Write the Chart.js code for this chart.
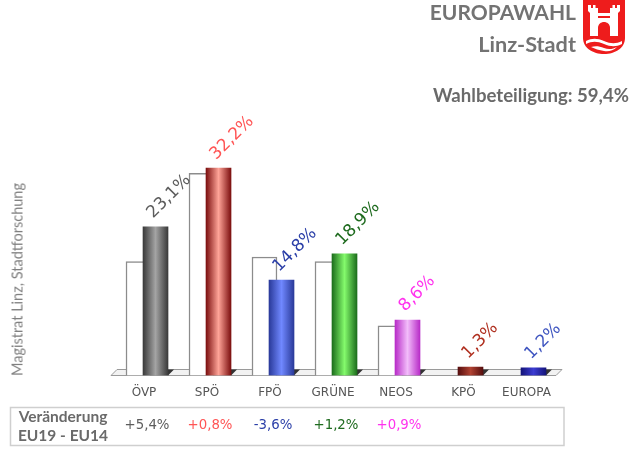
<!DOCTYPE html>
<html>
<head>
<meta charset="utf-8">
<script src="https://cdn.jsdelivr.net/npm/chart.js@4"></script>
<style>
html, body { margin: 0; padding: 0; background: #fff; }
#wrap { position: relative; width: 640px; height: 456px; overflow: hidden; }
#wrap div { position: absolute; white-space: nowrap; font-family: Lato, sans-serif; }
#t1 { right: 64px; top: -1px; font-size: 21px; font-weight: 700; color: #737373; }
#t2 { right: 64px; top: 31px; font-size: 21.7px; font-weight: 700; color: #737373; }
#turnout { right: 11px; top: 84px; font-size: 18.6px; font-weight: 700; color: #6a6a6a; }
#source { left: 17px; top: 376px; font-size: 14.5px; color: #808080; transform-origin: 0 0; transform: rotate(-90deg) translateY(-50%); }
svg { position: absolute; left: 583px; top: 0; }
</style>
</head>
<body>
<div id="wrap">
  <canvas id="wahlChart" width="640" height="456"></canvas>
  <div id="t1">EUROPAWAHL</div>
  <div id="t2">Linz-Stadt</div>
  <div id="turnout">Wahlbeteiligung: 59,4%</div>
  <div id="source">Magistrat Linz, Stadtforschung</div>
  <svg width="42" height="55" viewBox="0 0 42 55">
    <path d="M0 0H42V38C42 48 32 54 21 54C10 54 0 48 0 38Z" fill="#ee1c1c"/>
    <path d="M5 5H8V8H10V5H12.5V8H15V13H27V8H29.500V5H32V8H34V5H37V11L35 13V36H7V13L5 11Z" fill="#fff"/>
    <path d="M15 36V28C15 24 18 22 21 22C24 22 27 24 27 28V36Z" fill="#ee1c1c"/>
    <path d="M15 16H27V18H15Z" fill="#ee1c1c"/>
    <path d="M3 41C9 38 14 38 21 41C28 44 33 44 39 41V44C33 47 28 47 21 44C14 41 9 41 3 44Z" fill="#fff"/>
    <path d="M8 47C12 46 16 46 21 48C26 50 30 49 34 47C30 51 25 52 21 51C16 50 12 49 8 47Z" fill="#fff"/>
  </svg>
</div>
<script>
// Europawahl 2019 Linz, values in percent
var categories = ['ÖVP', 'SPÖ', 'FPÖ', 'GRÜNE', 'NEOS', 'KPÖ', 'EUROPA'];
var eu19 = [23.1, 32.2, 14.8, 18.9, 8.6, 1.3, 1.2];
var eu14 = [17.7, 31.4, 18.4, 17.7, 7.7, null, null];
var changes = ['+5,4%', '+0,8%', '-3,6%', '+1,2%', '+0,9%'];

var textColors = ['#5c5c5c', '#ff5555', '#2b3fa8', '#1f6b1f', '#ff33ee', '#b03020', '#3f55c0'];
var barEdges = ['#3a3a3a', '#7c0f0f', '#2a3a9a', '#1c6e1c', '#b82cc8', '#560e0e', '#14147a'];
var barMiddles = ['#a4a4a4', '#ffa498', '#7088ff', '#84fa6c', '#f2bcfa', '#b04232', '#3c3cd2'];

var BAR_W = 25;
var SANS = '"DejaVu Sans", sans-serif';

// the two datasets are grouped side by side, so the tick of scale x is the
// right edge of the EU19 bar and the tick of scale x2 the left edge of the EU14 bar
function barGradient(ctx) {
    var chart = ctx.chart;
    if (!chart.chartArea || ctx.dataIndex === undefined) return barEdges[0];
    var right = chart.scales.x.getPixelForValue(ctx.dataIndex);
    var g = chart.ctx.createLinearGradient(right - BAR_W, 0, right, 0);
    g.addColorStop(0, barEdges[ctx.dataIndex]);
    g.addColorStop(0.5, barMiddles[ctx.dataIndex]);
    g.addColorStop(1, barEdges[ctx.dataIndex]);
    return g;
}

var decor = {
    id: 'decor',
    beforeDatasetsDraw: function(chart) {
        var c = chart.ctx, a = chart.chartArea, base = chart.scales.y.getPixelForValue(0);
        // floor of the pseudo 3d chart
        c.save();
        c.beginPath();
        c.moveTo(a.left, base);
        c.lineTo(a.left + 6, base - 6);
        c.lineTo(a.right, base - 6);
        c.lineTo(a.right - 6, base);
        c.closePath();
        c.fillStyle = '#f2f2f2';
        c.fill();
        c.strokeStyle = '#9a9a9a';
        c.lineWidth = 1;
        c.stroke();
        // small shadows right of the bars
        c.fillStyle = '#333';
        eu19.forEach(function(v, i) {
            var r = chart.scales.x.getPixelForValue(i);
            c.beginPath();
            c.moveTo(r, base - 6);
            c.lineTo(r + 6, base - 6);
            c.lineTo(r, base);
            c.closePath();
            c.fill();
        });
        c.restore();
    },
    afterDatasetsDraw: function(chart) {
        var c = chart.ctx, x = chart.scales.x, y = chart.scales.y;
        c.save();
        // rotated value labels
        c.font = '17px ' + SANS;
        c.textAlign = 'left';
        c.textBaseline = 'alphabetic';
        eu19.forEach(function(v, i) {
            c.save();
            c.translate(x.getPixelForValue(i) - BAR_W + 10, y.getPixelForValue(v) - 8);
            c.rotate(-Math.PI / 4);
            c.fillStyle = textColors[i];
            c.fillText(v.toFixed(1).replace('.', ',') + '%', 0, 0);
            c.restore();
        });
        // category labels, centred on the pair of bars
        c.font = '12px ' + SANS;
        c.textAlign = 'center';
        c.textBaseline = 'middle';
        c.fillStyle = '#555';
        categories.forEach(function(name, i) {
            var shift = eu14[i] === null ? -19.5 : -24;
            c.fillText(name, x.getPixelForValue(i) + shift, 393);
        });
        // change box
        c.strokeStyle = '#cfcfcf';
        c.lineWidth = 1.5;
        c.strokeRect(10.5, 407.5, 553.5, 38);
        c.font = '700 15.500px Lato, sans-serif';
        c.fillStyle = '#6a6a6a';
        c.fillText('Veränderung', 63, 417);
        c.fillText('EU19 - EU14', 63, 436);
        c.font = '13.3px ' + SANS;
        changes.forEach(function(txt, i) {
            c.fillStyle = textColors[i];
            c.fillText(txt, x.getPixelForValue(i) - 21, 425.5);
        });
        c.restore();
    }
};

new Chart(document.getElementById('wahlChart').getContext('2d'), {
    type: 'bar',
    data: {
        datasets: [{
            label: 'EU19',
            data: eu19.map(function(v, i) { return { x: i, y: v }; }),
            xAxisID: 'x',
            backgroundColor: barGradient,
            barThickness: BAR_W
        }, {
            label: 'EU14',
            data: eu14.map(function(v, i) { return { x: i, y: v }; }),
            xAxisID: 'x2',
            backgroundColor: '#fff',
            borderColor: '#8c8c8c',
            borderWidth: { top: 1.5, left: 1.5, right: 1.5, bottom: 0 },
            barThickness: BAR_W
        }]
    },
    options: {
        responsive: false,
        animation: false,
        layout: { padding: { left: 111, right: 78, top: 98.6, bottom: 80.5 } },
        plugins: { legend: { display: false }, tooltip: { enabled: false } },
        scales: {
            x: { type: 'linear', offset: false, display: false, min: -0.905, max: 6.254 },
            x2: { type: 'linear', offset: false, display: false, min: -0.238, max: 6.921 },
            y: { display: false, min: 0, max: 43 }
        }
    },
    plugins: [decor]
});
</script>
</body>
</html>
